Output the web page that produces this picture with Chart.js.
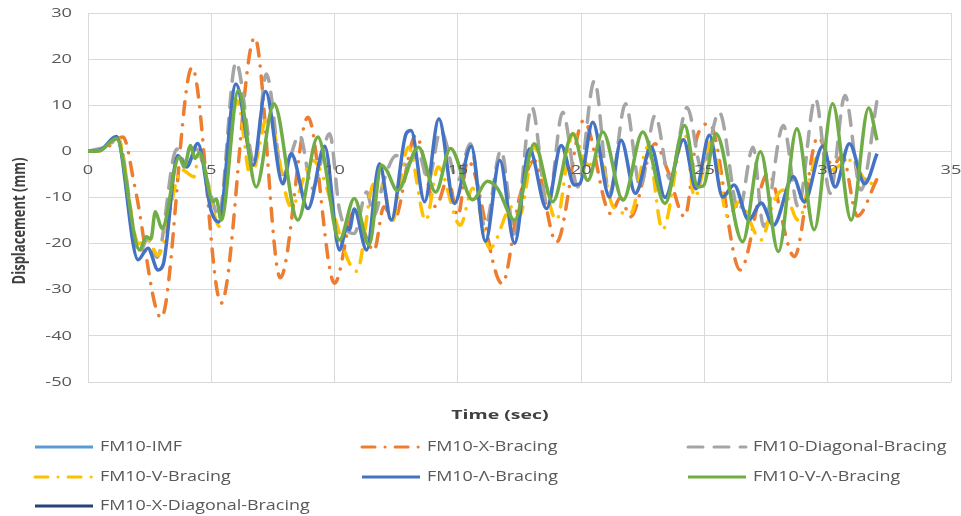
<!DOCTYPE html>
<html>
<head>
<meta charset="utf-8">
<script src="https://cdn.jsdelivr.net/npm/chart.js@4.4.0/dist/chart.umd.min.js"></script>
<style>
  html, body { margin: 0; background: #fff; }
</style>
</head>
<body>
<canvas id="dispChart" width="961" height="516"></canvas>
<script>
// axis ticks and titles
const X_TICKS = [0, 5, 10, 15, 20, 25, 30, 35];
const Y_TICKS = [-50, -40, -30, -20, -10, 0, 10, 20, 30];
const X_TITLE = "Time (sec)";
const Y_TITLE = "Displacement (mm)";

const SERIES_NAMES = [
  "FM10-IMF", "FM10-X-Bracing", "FM10-Diagonal-Bracing",
  "FM10-V-Bracing", "FM10-\u039B-Bracing", "FM10-V-\u039B-Bracing",
  "FM10-X-Diagonal-Bracing"
];

// [time (s), displacement (mm)] read at the turning points of each curve
const imf = [];
const xBracing = [
  [0, 0], [0.6, 0.3], [1.42, 3.1], [1.9, -7.7], [2.97, -36.1], [4.22, 18.2], [5.4, -32.9],
  [6.76, 24.7], [7.8, -27.4], [8.92, 7.4], [10.0, -28.6], [10.8, -13], [11.6, -21.5],
  [12.0, -12], [12.4, -15], [13.3, 3.5], [14.1, -12], [14.6, -6], [15.0, -14], [15.4, -2],
  [16.8, -28.7], [17.5, -10], [18.1, -2], [19.0, -19.7], [20.1, 6.7], [21.2, -13.5],
  [21.6, -10], [22.0, -14.2], [23.0, 1.65], [23.5, -4], [24.2, -14.2], [24.7, 3.1],
  [25.2, 6], [26.45, -25.7], [27.57, -4.8], [28.65, -22.8], [29.6, 3.1], [30.2, -3],
  [30.6, -1], [31.2, -14], [32.0, -6]
];
const diagonalBracing = [
  [0, 0], [0.9, 1.5], [1.2, 3], [2.1, -22], [2.4, -19], [2.8, -23], [3.6, 0.5], [4.0, -3],
  [4.4, 0.5], [4.87, -7], [5.3, -14], [6.0, 19.3], [6.76, -2.7], [7.23, 16.8], [7.9, -5],
  [8.58, 3.5], [9.1, -8], [9.8, 3.8], [10.2, -12.7], [10.8, -17.8], [11.3, -8.8], [11.6, -14],
  [12.0, -6.3], [12.5, -0.9], [12.9, -3], [13.4, -0.5], [13.8, -6.3], [14.3, 4.5], [15.0, -6.3],
  [15.5, 1.65], [16.1, -16.3], [16.75, 0.2], [17.3, -17.8], [18.0, 9.6], [18.65, -12],
  [19.25, 8.5], [19.86, -7.7], [20.54, 15.3], [21.15, -9.1], [21.8, 10.3], [22.4, -7.7],
  [23.0, 7.8], [23.6, -6], [24.3, 9.5], [24.9, -4], [25.6, 8.5], [26.4, -13], [26.97, 0.9],
  [27.4, -16.3], [28.2, 5.6], [28.8, -12], [29.5, 11.4], [30.1, -9.1], [30.7, 12.1],
  [31.35, -8.4], [32.0, 11]
];
const vBracing = [
  [0, 0], [0.5, 0.2], [1.2, 3], [2.05, -20], [2.4, -19], [2.84, -22.5], [3.0, -21], [3.8, -4],
  [4.3, -5.5], [4.5, -0.5], [5.34, -16.3], [6.05, 11], [6.6, -5.5], [7.3, 7.8], [8.24, -12],
  [9.1, -2], [10.9, -26], [11.6, -7], [12.0, -7.7], [12.3, -15.6], [13.0, 0.9], [13.7, -15],
  [14.2, -3.4], [15.1, -16], [15.6, -8], [16.3, -21], [17.2, -12], [17.5, -14], [18.1, 0.9],
  [19.0, -14.9], [19.66, 3.8], [20.3, -3], [20.7, -1], [21.3, -12], [22.0, -13.5], [22.7, 0.9],
  [23.3, -17], [24.2, 3.8], [24.6, -9.9], [25.3, 2.4], [25.95, -14.2], [26.4, -11],
  [27.3, -19.2], [27.8, -11], [28.2, -8.4], [28.8, -14.9], [29.6, -1.2], [30.1, -4.1],
  [30.9, -1.9], [31.7, -7], [32.0, -6]
];
const lambdaBracing = [
  [0, 0], [0.5, 0.3], [1.15, 3.2], [2.03, -23.5], [2.43, -21], [2.84, -25.7], [3.05, -24.5],
  [3.64, -0.9], [4.0, -3.4], [4.45, 1.7], [5.0, -13], [5.3, -15.3], [6.0, 14.6], [6.7, -3],
  [7.2, 13], [7.9, -7], [8.24, -0.5], [8.92, -12.4], [9.6, 1.1], [10.2, -21.4], [10.5, -16.5],
  [10.6, -17], [10.8, -12.5], [11.3, -21.4], [11.82, -2.7], [12.3, -14.9], [12.9, 3.8],
  [13.1, 4.5], [13.65, -10.9], [14.23, 7.05], [14.86, -11.3], [15.54, 1.1], [16.12, -19.5],
  [16.7, -1.9], [17.3, -19.9], [17.9, 0.5], [18.6, -12.4], [19.19, 1.3], [19.73, -7.3],
  [19.95, -7], [20.47, 6.3], [21.15, -9.9], [21.62, 2.4], [22.2, -9.1], [22.84, 0.9],
  [23.4, -10], [24.15, 2.5], [24.66, -8.1], [25.2, 3.5], [25.74, -9.9], [26.2, -7.3],
  [26.8, -14.9], [27.3, -11.2], [27.8, -16], [28.6, -5.5], [29.05, -10.9], [29.8, 1.1],
  [30.3, -7.7], [30.88, 1.65], [31.5, -7], [32.0, -0.5]
];
const vLambdaBracing = [
  [0, 0], [0.5, 0.2], [1.15, 2.8], [2.1, -21.4], [2.36, -18.5], [2.55, -19], [2.73, -13.1],
  [3.0, -16.7], [3.7, -1.2], [3.9, -3.4], [4.16, 1.3], [4.33, -1.5], [4.53, -0.3], [5.07, -10.9],
  [5.2, -10.3], [5.4, -14.9], [6.1, 13.2], [6.82, -7.7], [7.54, 10.3], [8.51, -14.9], [9.32, 3.1],
  [10.2, -19.2], [10.8, -10.2], [11.4, -20.3], [11.9, -3], [12.1, -4], [12.55, -8.5], [13.4, 0.9],
  [14.1, -8.8], [14.7, 0.6], [15.6, -10.5], [16.2, -6.5], [16.6, -8], [17.3, -14.9], [18.1, 1.65],
  [18.85, -10.9], [19.66, 3.8], [20.27, -6.3], [20.88, 4.2], [21.7, -10.6], [22.5, 4.2],
  [23.4, -11.3], [24.2, 5.6], [24.73, -7.7], [24.95, -7.5], [25.47, 3.8], [26.55, -19.6],
  [27.27, -0.1], [28.0, -21.7], [28.75, 4.9], [29.45, -17], [30.2, 10.3], [30.95, -14.9],
  [31.66, 9.4], [32.0, 2.4]
];
const xDiagonalBracing = [];

const gridColor = "#d9d9d9";
const tickColor = "#595959";

const toPoints = arr => arr.map(([x, y]) => ({ x, y }));

function line(label, data, color, dash, order) {
  return {
    label,
    data: toPoints(data),
    borderColor: color,
    backgroundColor: color,
    borderWidth: 3.5,
    borderDash: dash,
    borderCapStyle: dash.length ? "round" : "butt",
    pointRadius: 0,
    cubicInterpolationMode: "monotone",
    fill: false,
    order
  };
}

// text in the source picture is wider than it is tall, so stretch it a bit
function wideText(ctx, text, x, y, align, sx) {
  ctx.save();
  ctx.translate(x, y);
  ctx.scale(sx, 1);
  ctx.textAlign = align;
  ctx.fillText(text, 0, 0);
  ctx.restore();
}

const LEGEND_X = [35, 362, 688];
const LEGEND_Y = [447, 477, 506];

const excelText = {
  id: "excelText",
  afterDraw(chart) {
    const { ctx, chartArea, scales: { x, y } } = chart;
    ctx.save();
    ctx.textBaseline = "middle";
    ctx.fillStyle = tickColor;
    ctx.font = '13px "Open Sans"';
    y.ticks.forEach(t => wideText(ctx, String(t.value), chartArea.left - 16, y.getPixelForValue(t.value), "right", 1.4));
    const labelY = y.getPixelForValue(0) + 19;
    x.ticks.forEach(t => wideText(ctx, String(t.value), x.getPixelForValue(t.value), labelY, "center", 1.4));

    ctx.fillStyle = "#404040";
    ctx.font = 'bold 13px "Open Sans"';
    wideText(ctx, X_TITLE, 500, 415, "center", 1.5);
    ctx.save();
    ctx.translate(20, 221);
    ctx.rotate(-Math.PI / 2);
    ctx.scale(1, 1.3);
    ctx.textAlign = "center";
    ctx.fillText(Y_TITLE, 0, 0);
    ctx.restore();

    ctx.font = '14px "Open Sans"';
    chart.data.datasets.forEach((ds, i) => {
      const lx = LEGEND_X[i % 3];
      const ly = LEGEND_Y[Math.floor(i / 3)];
      ctx.beginPath();
      ctx.setLineDash(ds.borderDash);
      ctx.lineCap = ds.borderCapStyle;
      ctx.lineWidth = 3;
      ctx.strokeStyle = ds.borderColor;
      ctx.moveTo(lx, ly);
      ctx.lineTo(lx + 58, ly);
      ctx.stroke();
      ctx.setLineDash([]);
      ctx.fillStyle = tickColor;
      wideText(ctx, ds.label, lx + 65, ly, "left", 1.28);
    });
    ctx.restore();
  }
};

const ctx = document.getElementById("dispChart").getContext("2d");
new Chart(ctx, {
  type: "line",
  data: {
    datasets: [
      line(SERIES_NAMES[0], imf, "#5B9BD5", [], 7),
      line(SERIES_NAMES[1], xBracing, "#ED7D31", [13, 10, 0.1, 10], 6),
      line(SERIES_NAMES[2], diagonalBracing, "#A5A5A5", [15, 11], 5),
      line(SERIES_NAMES[3], vBracing, "#FFC000", [13, 10, 0.1, 10], 4),
      line(SERIES_NAMES[4], lambdaBracing, "#4472C4", [], 3),
      line(SERIES_NAMES[5], vLambdaBracing, "#70AD47", [], 2),
      line(SERIES_NAMES[6], xDiagonalBracing, "#264478", [], 1)
    ]
  },
  options: {
    responsive: false,
    animation: false,
    layout: { padding: { top: 13, right: 10, bottom: 134, left: 0 } },
    plugins: {
      legend: { display: false },
      tooltip: { enabled: false }
    },
    scales: {
      x: {
        type: "linear",
        min: X_TICKS[0],
        max: X_TICKS[X_TICKS.length - 1],
        afterBuildTicks: s => { s.ticks = X_TICKS.map(v => ({ value: v })); },
        ticks: { display: false },
        grid: { color: gridColor, drawTicks: false },
        border: { display: false }
      },
      y: {
        min: Y_TICKS[0],
        max: Y_TICKS[Y_TICKS.length - 1],
        afterBuildTicks: s => { s.ticks = Y_TICKS.map(v => ({ value: v })); },
        afterFit: s => { s.width = 88; },
        ticks: { display: false },
        grid: { color: gridColor, drawTicks: false },
        border: { display: false }
      }
    }
  },
  plugins: [excelText]
});
</script>
</body>
</html>
